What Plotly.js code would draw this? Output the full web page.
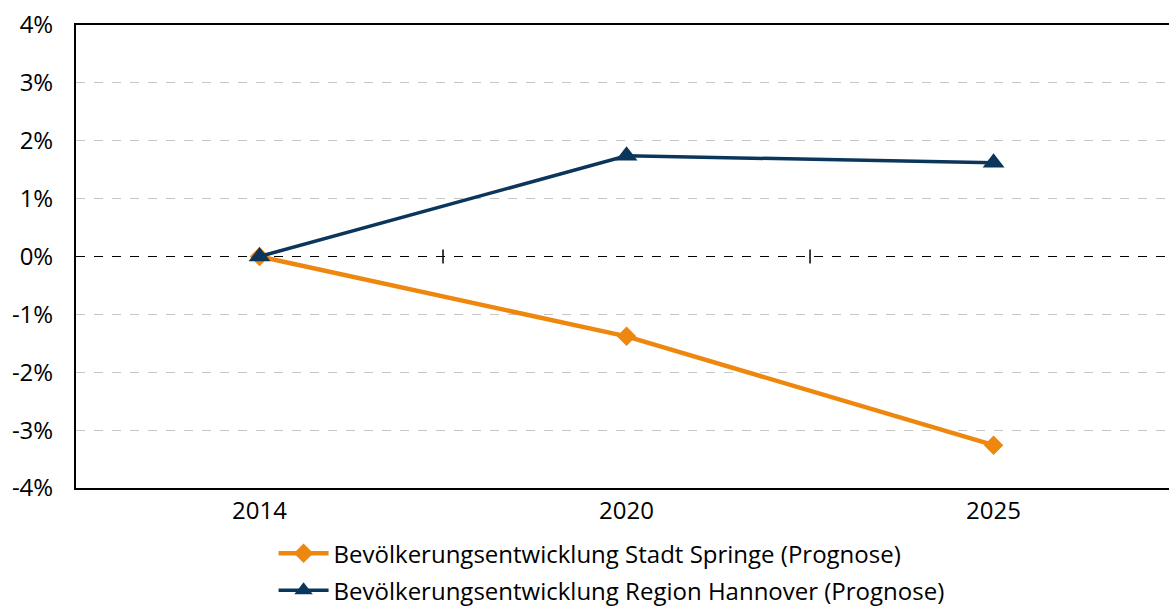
<!DOCTYPE html>
<html>
<head>
<meta charset="utf-8">
<script src="https://cdn.plot.ly/plotly-3.0.1.min.js"></script>
<style>html,body{margin:0;padding:0;background:#fff;overflow:hidden;}</style>
</head>
<body>
<div id="chart" style="width:1169px;height:608px;"></div>
<script>
const years = ['2014', '2020', '2025'];
const springe = [0, -1.38, -3.26];
const hannover = [0, 1.74, 1.62];
const seriesNames = ['Bevölkerungsentwicklung Stadt Springe (Prognose)', 'Bevölkerungsentwicklung Region Hannover (Prognose)'];
const yTickVals = [-4, -3, -2, -1, 0, 1, 2, 3, 4];
const yTickText = ['-4%', '-3%', '-2%', '-1%', '0%', '1%', '2%', '3%', '4%'];

const font = '"Open Sans", sans-serif';

const traces = [
  {
    x: years, y: springe, name: seriesNames[0], type: 'scatter', mode: 'lines+markers',
    line: {color: '#EE870E', width: 4.5},
    marker: {symbol: 'diamond', size: 15, color: '#EE870E'},
    legendgroup: 'a'
  },
  {
    x: years, y: hannover, name: seriesNames[1], type: 'scatter', mode: 'lines+markers',
    line: {color: '#0B365C', width: 3.5},
    marker: {symbol: 'triangle-up', size: 19, color: '#0B365C'},
    legendgroup: 'b'
  }
];

const shapes = [
  {type: 'line', xref: 'paper', yref: 'y', x0: 0, x1: 1, y0: 0, y1: 0,
   line: {color: '#000', width: 1.2, dash: 'dash'}, layer: 'below'},
  {type: 'line', xref: 'x', yref: 'y', ysizemode: 'pixel', yanchor: 0, x0: 0.5, x1: 0.5, y0: -7, y1: 7,
   line: {color: '#000', width: 1.5}, layer: 'above'},
  {type: 'line', xref: 'x', yref: 'y', ysizemode: 'pixel', yanchor: 0, x0: 1.5, x1: 1.5, y0: -7, y1: 7,
   line: {color: '#000', width: 1.5}, layer: 'above'}
];

const layout = {
  width: 1169, height: 608,
  margin: {l: 76, r: 0, t: 25, b: 120, autoexpand: false},
  paper_bgcolor: '#fff', plot_bgcolor: '#fff',
  font: {family: font, size: 24, color: '#000'},
  showlegend: true,
  legend: {
    orientation: 'v', x: 0.49, xanchor: 'center', y: -0.093, yanchor: 'top',
    font: {family: font, size: 24, color: '#000'},
    tracegroupgap: 3, itemwidth: 50, bgcolor: 'rgba(0,0,0,0)'
  },
  xaxis: {
    type: 'category', range: [-0.5, 2.478],
    showline: true, linecolor: '#000', linewidth: 2, mirror: true,
    showgrid: false, zeroline: false, ticks: '',
    tickfont: {family: font, size: 24, color: '#000'},
    automargin: false, fixedrange: true
  },
  yaxis: {
    range: [-4, 4], tickvals: yTickVals, ticktext: yTickText,
    showline: true, linecolor: '#000', linewidth: 2, mirror: false,
    showgrid: true, gridcolor: '#c6c6c6', griddash: 'dash', gridwidth: 1,
    zeroline: false, ticks: '', ticklabelstandoff: 16,
    tickfont: {family: font, size: 24, color: '#000'},
    automargin: false, fixedrange: true, layer: 'below traces'
  },
  shapes: shapes
};

Plotly.newPlot('chart', traces, layout, {displayModeBar: false, staticPlot: true}).then(function () {
  // raise the dashed zero line above the gridlines but below the traces
  const gd = document.getElementById('chart');
  const below = gd.querySelector('.layer-below .shapelayer');
  const grid = gd.querySelector('.gridlayer');
  if (below && grid && grid.parentNode) {
    grid.parentNode.insertBefore(below, grid.nextSibling);
  }
});
</script>
</body>
</html>
